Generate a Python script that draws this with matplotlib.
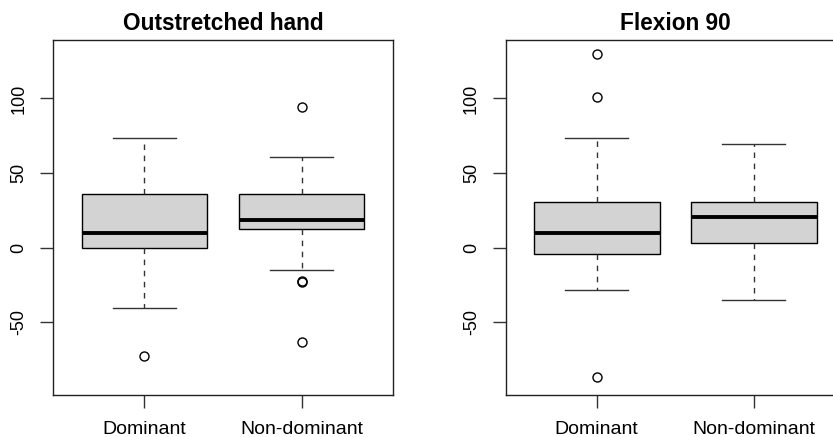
import matplotlib
matplotlib.use("Agg")
import matplotlib.pyplot as plt

plt.rcParams['font.family'] = ['Liberation Sans', 'DejaVu Sans']

groups = ["Dominant", "Non-dominant"]
titles = ["Outstretched hand", "Flexion 90"]

# Outstretched hand
oh_whislo = [-40.2, -14.7]
oh_q1 = [0.0, 12.7]
oh_med = [9.8, 18.8]
oh_q3 = [36.2, 36.2]
oh_whishi = [73.7, 60.7]
oh_fliers = [[-72.7], [94.2, -22.3, -22.8, -62.9]]

# Flexion 90
fx_whislo = [-28.3, -35.2]
fx_q1 = [-4.0, 2.9]
fx_med = [9.8, 20.6]
fx_q3 = [30.4, 30.4]
fx_whishi = [73.7, 69.6]
fx_fliers = [[129.5, 100.9, -86.6], []]

yticks = [-50, 0, 50, 100]

panels = [
    (oh_whislo, oh_q1, oh_med, oh_q3, oh_whishi, oh_fliers),
    (fx_whislo, fx_q1, fx_med, fx_q3, fx_whishi, fx_fliers),
]

W, H = 833, 437
fig = plt.figure(figsize=(W / 100, H / 100), dpi=100)
axes_px = [(53.3, 40, 339.4, 355), (505.6, 40, 339.4, 355)]

for (x0, top, w, h), title, data in zip(axes_px, titles, panels):
    ax = fig.add_axes([x0 / W, (H - top - h) / H, w / W, h / H])
    whislo, q1, med, q3, whishi, fliers = data
    stats = []
    for i, g in enumerate(groups):
        stats.append(dict(label=g, whislo=whislo[i], q1=q1[i], med=med[i],
                          q3=q3[i], whishi=whishi[i], fliers=fliers[i]))
    ax.bxp(stats, positions=[1, 2], widths=0.8, capwidths=0.4,
           patch_artist=True,
           boxprops=dict(facecolor='#D3D3D3', edgecolor='black', linewidth=1.0),
           medianprops=dict(color='black', linewidth=2.8, solid_capstyle='butt'),
           whiskerprops=dict(color='#333333', linewidth=1.0, linestyle=(0, (4, 4))),
           capprops=dict(color='#333333', linewidth=1.0),
           flierprops=dict(marker='o', markerfacecolor='none', markeredgecolor='black',
                           markersize=6.5, markeredgewidth=1.0))
    ax.set_xlim(0.42, 2.58)
    ax.set_ylim(-98.6, 139.1)
    ax.set_yticks(yticks)
    ax.set_yticklabels([str(v) for v in yticks], rotation=90, va='center', fontsize=13)
    ax.set_xticks([1, 2])
    ax.set_xticklabels(groups, fontsize=14)
    ax.tick_params(axis='both', direction='out', length=9.4, width=1.0, color='#333333')
    ax.tick_params(axis='y', pad=9)
    ax.tick_params(axis='x', pad=9)
    for s in ax.spines.values():
        s.set_linewidth(1.0)
        s.set_color('#222222')
    ax.set_title(title, fontsize=16.3, fontweight='bold', pad=7)

fig.savefig("out.png", dpi=100)
